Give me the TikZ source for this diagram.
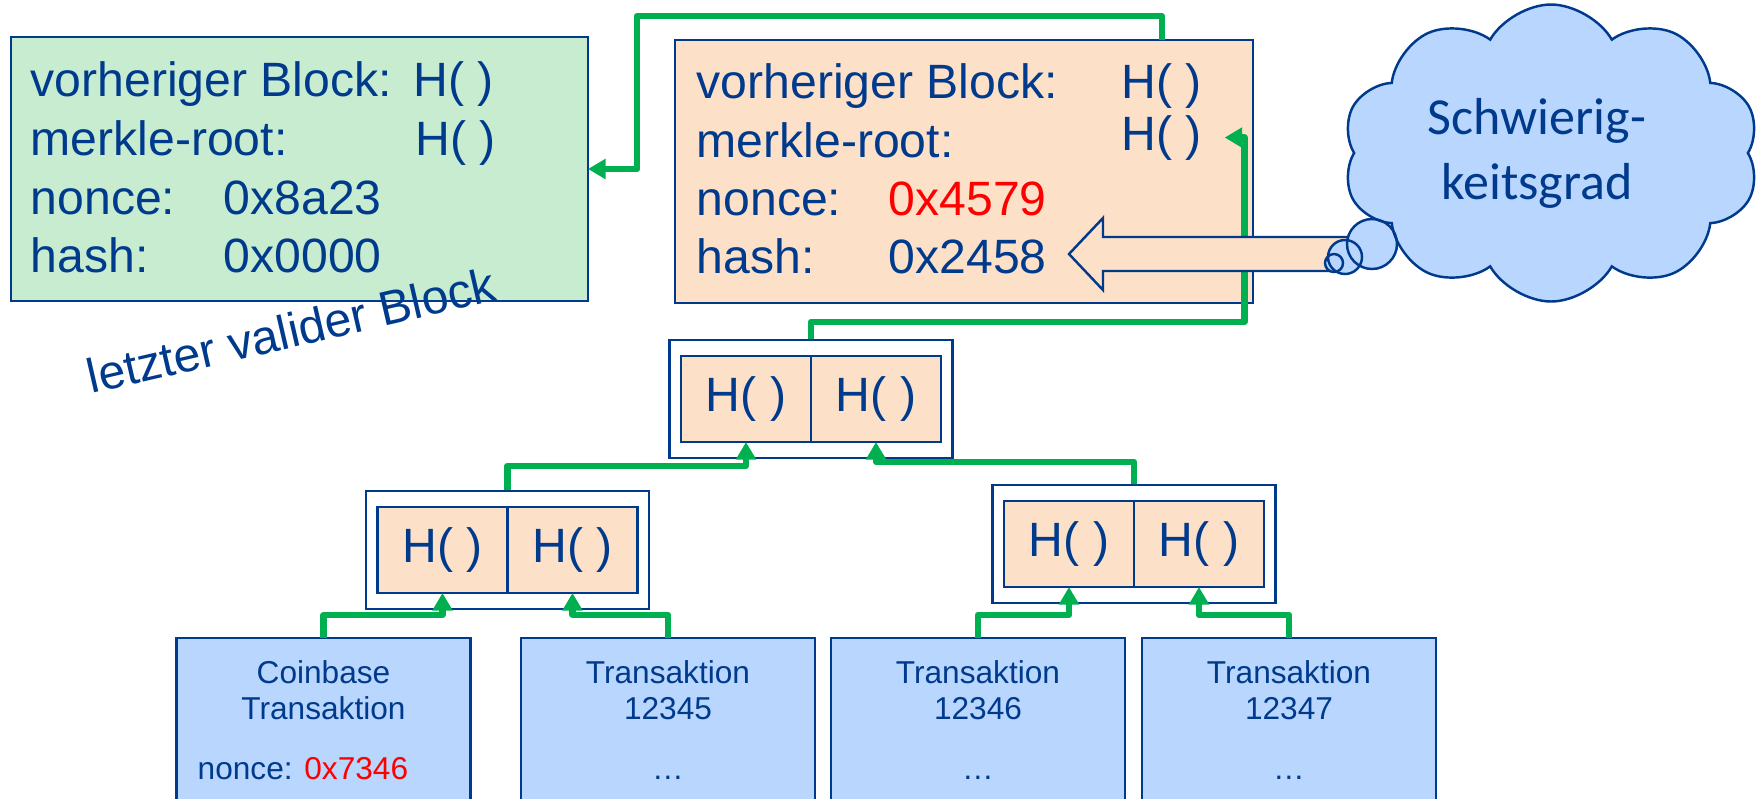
\documentclass[tikz,border=0pt]{standalone}
\usepackage{fontspec}
\setmainfont{Liberation Sans}
\newfontfamily\cloudfont{Carlito}
\usetikzlibrary{calc,positioning,fit,shapes.symbols,arrows.meta}

\definecolor{txtblue}{RGB}{0,58,140}
\definecolor{okgreen}{RGB}{199,236,208}
\definecolor{blkorange}{RGB}{253,224,200}
\definecolor{txblue}{RGB}{184,214,254}
\definecolor{linkgreen}{RGB}{0,176,80}

\tikzset{
	blk/.style={draw=txtblue, line width=0.7pt, inner sep=0pt, outer sep=0pt},
	fld/.style={text=txtblue, font=\fontsize{13.7pt}{16pt}\selectfont, inner sep=0pt, anchor=base west},
	hbox/.style={blk, fill=blkorange, text=txtblue, font=\fontsize{13.7pt}{16pt}\selectfont, minimum width=13mm, minimum height=8.6mm},
	pairbox/.style={draw=txtblue, line width=0.7pt, inner xsep=1.15mm, inner ysep=1.6mm},
	txbox/.style={blk, fill=txblue, minimum width=29.4mm, minimum height=18mm, anchor=north},
	txt/.style={text=txtblue, font=\fontsize{9pt}{10pt}\selectfont, inner sep=0pt, anchor=base},
	link/.style={draw=linkgreen, line width=1.8pt, line join=round, -{Triangle[length=5pt,width=5.5pt]}}
}

\begin{document}
\begin{tikzpicture}[x=0.1mm, y=-0.1mm]
		%%%%% START %%%%%
		\path[use as bounding box, fill=white] (0,0) rectangle (1762,798);
		
		% last valid block
		\node[blk, fill=okgreen, minimum width=57.7mm, minimum height=26.4mm] (prev) at (299.5,169) {};
		\node[fld] (pvb) at (30,96) {vorheriger Block:};
		\node[fld] (pvbh) at (413,96) {H( )};
		\node[fld] (pmr) at (30,155) {merkle-root:};
		\node[fld] (pmrh) at (415,155) {H( )};
		\node[fld] (pno) at (30,214) {nonce:};
		\node[fld] (pnov) at (223,214) {0x8a23};
		\node[fld] (pha) at (30,272) {hash:};
		\node[fld] (phav) at (223,272) {0x0000};
		\node[fld, anchor=base, rotate=13] (lastlbl) at (295,347) {letzter valider Block};
		
		% current block
		\node[blk, fill=blkorange, minimum width=57.8mm, minimum height=26.3mm] (cur) at (964,171.5) {};
		\node[fld] (cvb) at (696,98) {vorheriger Block:};
		\node[fld] (cvbh) at (1121,98) {H( )};
		\node[fld] (cmr) at (696,157) {merkle-root:};
		\node[fld] (cmrh) at (1121,150) {H( )};
		\node[fld] (cno) at (696,215) {nonce:};
		\node[fld, text=red] (cnov) at (888,215) {0x4579};
		\node[fld] (cha) at (696,273) {hash:};
		\node[fld] (chav) at (888,273) {0x2458};
		
		% merkle tree
		\node[hbox] (rootl) at (746,399) {H( )};
		\node[hbox, right=0mm of rootl] (rootr) {H( )};
		\node[pairbox, fit=(rootl)(rootr)] (root) {};
		
		\node[hbox] (lvl1a) at (442.5,550) {H( )};
		\node[hbox, right=0mm of lvl1a] (lvl1b) {H( )};
		\node[pairbox, fit=(lvl1a)(lvl1b)] (pairl) {};
		
		\node[hbox] (lvl1c) at (1069,544) {H( )};
		\node[hbox, right=0mm of lvl1c] (lvl1d) {H( )};
		\node[pairbox, fit=(lvl1c)(lvl1d)] (pairr) {};
		
		% transactions
		\node[txbox] (tx1) at (323.5,638) {};
		\node[txbox] (tx2) at (668,638) {};
		\node[txbox] (tx3) at (978,638) {};
		\node[txbox] (tx4) at (1289,638) {};
		
		\node[txt] (tx1a) at ($(tx1.north)+(0,45)$) {Coinbase};
		\node[txt] (tx1b) at ($(tx1.north)+(0,81)$) {Transaktion};
		\node[txt, anchor=base west] (tx1c) at (197,779) {nonce: \textcolor{red}{0x7346}};
		\node[txt] (tx2a) at ($(tx2.north)+(0,45)$) {Transaktion};
		\node[txt] (tx2b) at ($(tx2.north)+(0,81)$) {12345};
		\node[txt] (tx2c) at ($(tx2.north)+(0,141)$) {…};
		\node[txt] (tx3a) at ($(tx3.north)+(0,45)$) {Transaktion};
		\node[txt] (tx3b) at ($(tx3.north)+(0,81)$) {12346};
		\node[txt] (tx3c) at ($(tx3.north)+(0,141)$) {…};
		\node[txt] (tx4a) at ($(tx4.north)+(0,45)$) {Transaktion};
		\node[txt] (tx4b) at ($(tx4.north)+(0,81)$) {12347};
		\node[txt] (tx4c) at ($(tx4.north)+(0,141)$) {…};
		
		% hash links
		\draw[link] (tx1.north) -- ++(0,-23) -| (lvl1a.south);
		\draw[link] (tx2.north) -- ++(0,-23) -| (lvl1b.south);
		\draw[link] (tx3.north) -- ++(0,-23) -| (lvl1c.south);
		\draw[link] (tx4.north) -- ++(0,-23) -| (lvl1d.south);
		\draw[link] (pairl.north) -- ++(0,-24) -| (rootl.south);
		\draw[link] (pairr.north) -- ++(0,-22) -| (rootr.south);
		\draw[link] (root.north) -- ++(0,-17) -| ($(cmrh.east)+(42,0)$) -- ($(cmrh.east)+(22,0)$);
		\draw[link] (cvbh.north |- cur.north) -- ++(0,-24) -| ($(prev.east)+(49,0)$) -- (prev.east);
		
		% difficulty
		\draw[draw=txtblue, fill=blkorange, line width=0.7pt] (1069,254) -- (1103,218) -- (1103,237) -- (1350,237) -- (1350,271) -- (1103,271) -- (1103,290) -- cycle;
		\fill[txblue] (1372,244) circle (2.5mm);
		\fill[txblue] (1345,257) circle (1.7mm);
		\fill[txblue] (1334,263) circle (0.9mm);
		\node[cloud, draw=txtblue, fill=txblue, line width=0.7pt, cloud puffs=10, cloud puff arc=120, cloud ignores aspect, minimum width=41.7mm, minimum height=29.7mm] (diff) at (1551,153) {};
		\node[align=center, text=txtblue, font=\cloudfont\fontsize{14.8pt}{18.5pt}\selectfont] (difftxt) at (1537,153) {Schwierig-\\keitsgrad};
		\draw[txtblue, line width=0.7pt] (1372,244) circle (2.5mm);
		\draw[txtblue, line width=0.7pt] (1345,257) circle (1.7mm);
		\draw[txtblue, line width=0.7pt] (1334,263) circle (0.9mm);
		
		%%%%% END %%%%%
\end{tikzpicture}
\end{document}
